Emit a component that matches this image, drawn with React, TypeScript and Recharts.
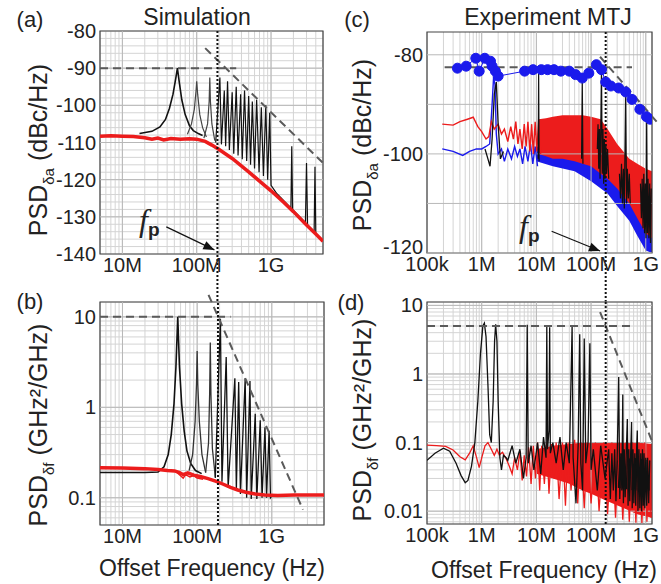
import React from "react";
import {
  Area,
  CartesianGrid,
  ComposedChart,
  Line,
  ReferenceArea,
  ReferenceDot,
  ReferenceLine,
  XAxis,
  YAxis,
} from "recharts";

type Pt = [number, number | null];
type Band = [number, number, number];

const RED = "#ec1c1c";
const BLUE = "#1a1aec";
const BLACK = "#111";
const DASH = "#5a5a5a";
const GRID = "#d4d4d4";
const GRID_MAJOR = "#b8b8b8";
const FONT = '"Liberation Sans", Arial, Helvetica, sans-serif';

// fp markers (Hz)
const FP_SIM = 1.9e8;
const FP_EXP = 1.85e8;

// axis labels
const SIM_X_LABELS: [number, string][] = [[1e7, "10M"], [1e8, "100M"], [1e9, "1G"]];
const EXP_X_LABELS: [number, string][] = [[1e5, "100k"], [1e6, "1M"], [1e7, "10M"], [1e8, "100M"], [1e9, "1G"]];
const A_Y_LABELS: [number, string][] = [[-80, "-80"], [-90, "-90"], [-100, "-100"], [-110, "-110"], [-120, "-120"], [-130, "-130"], [-140, "-140"]];
const C_Y_LABELS: [number, string][] = [[-80, "-80"], [-100, "-100"], [-120, "-120"]];
const C_Y_GRID = [-120, -110, -100, -90, -80];
const B_Y_LABELS: [number, string][] = [[0.1, "0.1"], [1, "1"], [10, "10"]];
const D_Y_LABELS: [number, string][] = [[0.01, "0.01"], [0.1, "0.1"], [1, "1"], [10, "10"]];

// ---------- (a) simulation, amplitude PSD (dBc/Hz)
const A_RED: Pt[] = [
  [5e6, -108.3], [7e6, -108.2], [1e7, -108.3], [1.4e7, -108.4], [2e7, -108.7], [2.5e7, -109.1],
  [3e7, -108.8], [3.6e7, -109.3], [4.5e7, -108.9], [6e7, -109.1], [8e7, -109], [1e8, -109.1],
  [1.3e8, -109.7], [1.6e8, -110.7], [2e8, -111.9], [3e8, -114.3], [5e8, -117.9], [7e8, -120.4],
  [1e9, -123], [1.5e9, -126.2], [2e9, -128.6], [3e9, -132.2], [4e9, -134.6], [5e9, -136.6],
];
const A_PEAK1: Pt[] = [
  [1.7e7, -107.6], [2.5e7, -107], [3.2e7, -105.8], [3.8e7, -103.8], [4.3e7, -100.8], [4.8e7, -97],
  [5.2e7, -93], [5.5e7, -90], [5.8e7, -93.5], [6.3e7, -98.5], [7e7, -102.5], [8e7, -105.5],
  [9e7, -106.8], [1.05e8, -107.6], [1.2e8, -108.1],
];
const A_PEAK2: Pt[] = [
  [7.5e7, -107.8], [8.5e7, -105], [9.3e7, -101], [9.8e7, -96], [1e8, -93.5], [1.03e8, -97],
  [1.1e8, -102.5], [1.2e8, -106], [1.35e8, -108.5],
];
const A_PEAK3: Pt[] = [
  [1.25e8, -108.8], [1.4e8, -105], [1.47e8, -99], [1.5e8, -92.5], [1.53e8, -99], [1.6e8, -105], [1.75e8, -109.5],
];
const A_SPIKES: Pt[] = [
  [1.8e8, -110], [2.05e8, -92.5], [2.15e8, -110.5], [2.35e8, -96], [2.45e8, -111], [2.6e8, -93.5],
  [2.75e8, -112], [3.0e8, -96.5], [3.15e8, -113], [3.4e8, -95], [3.6e8, -113.5], [3.9e8, -97],
  [4.1e8, -114.5], [4.4e8, -96], [4.7e8, -115], [5.0e8, -97.5], [5.3e8, -116], [5.6e8, -99],
  [6.0e8, -117], [6.4e8, -98.5], [6.9e8, -118], [7.4e8, -100.5], [7.9e8, -119], [8.5e8, -100],
  [9.0e8, -120], [9.6e8, -102], [1.0e9, -121.5], [1.2e9, -123.8], [1.85e9, -127.6], [1.9e9, -111],
  [1.95e9, -128], [2.9e9, -131.6], [3.0e9, -115.5], [3.1e9, -132.2], [3.8e9, -134], [3.9e9, -116.5],
  [4.0e9, -134.4],
];
const A_DASH_FLAT: Pt[] = [[5e6, -90], [3.4e8, -90]];
const A_DASH_SLOPE: Pt[] = [[1.3e8, -84.6], [5e9, -115.5]];
const A_FP_ARROW: Pt[] = [[3.9e7, -132.7], [1.73e8, -138.9]];

// ---------- (b) simulation, frequency PSD (GHz^2/GHz)
const B_RED: Pt[] = [
  [5e6, 0.215], [1e7, 0.213], [2e7, 0.21], [3e7, 0.205], [4e7, 0.2], [5e7, 0.198], [5.8e7, 0.19],
  [6.5e7, 0.18], [7.5e7, 0.188], [9e7, 0.178], [1.1e8, 0.172], [1.4e8, 0.163], [1.8e8, 0.152],
  [2.2e8, 0.142], [2.8e8, 0.13], [3.5e8, 0.122], [4.5e8, 0.115], [6e8, 0.11], [8e8, 0.107],
  [1.2e9, 0.106], [2e9, 0.107], [5e9, 0.107],
];
const B_RED2: Pt[] = [
  [5e7, 0.2], [6e7, 0.175], [6.5e7, 0.165], [7e7, 0.18], [8e7, 0.17], [9e7, 0.176], [1e8, 0.165], [1.2e8, 0.16],
];
const B_PEAK1: Pt[] = [
  [5e6, 0.19], [1e7, 0.19], [2e7, 0.19], [3e7, 0.193], [3.6e7, 0.22], [4.1e7, 0.3], [4.5e7, 0.5],
  [4.9e7, 1.1], [5.2e7, 2.8], [5.5e7, 10], [5.8e7, 2.8], [6.2e7, 1.1], [6.7e7, 0.55], [7.3e7, 0.33],
  [8.2e7, 0.24], [9.5e7, 0.2], [1.15e8, 0.185],
];
const B_PEAK2: Pt[] = [
  [7.8e7, 0.2], [8.7e7, 0.3], [9.4e7, 0.7], [9.8e7, 1.8], [1e8, 4.2], [1.02e8, 1.8], [1.07e8, 0.7],
  [1.16e8, 0.3], [1.3e8, 0.19],
];
const B_PEAK3: Pt[] = [
  [1.3e8, 0.19], [1.42e8, 0.4], [1.47e8, 1.4], [1.5e8, 5.2], [1.53e8, 1.4], [1.6e8, 0.35], [1.75e8, 0.17],
];
const B_SPIKES: Pt[] = [
  [1.75e8, 0.165], [2.05e8, 9.5], [2.15e8, 0.15], [2.45e8, 3.6], [2.6e8, 0.13], [3.2e8, 2.1],
  [3.35e8, 0.12], [3.6e8, 1.9], [3.8e8, 0.11], [4.4e8, 2.1], [4.6e8, 0.1], [5.1e8, 1.95],
  [5.3e8, 0.097], [6e8, 0.85], [6.3e8, 0.097], [7e8, 0.72], [7.4e8, 0.1], [8.1e8, 0.6],
  [8.5e8, 0.1], [9.2e8, 0.55], [9.6e8, 0.1], [1e9, 0.105],
];
const B_DASH_FLAT: Pt[] = [[5e6, 10], [2.8e8, 10]];
const B_DASH_SLOPE: Pt[] = [[1.42e8, 17.5], [2.61e9, 0.074]];

// ---------- (c) experiment, amplitude PSD (dBc/Hz)
const C_DOTS: Pt[] = [
  [3.6e5, -82.7], [5.2e5, -82.3], [7.8e5, -80.7], [9e5, -83.3], [1.14e6, -80.7], [1.45e6, -81.3],
  [1.55e6, -82.3], [1.78e6, -83.3], [2.0e6, -84.3], [6.1e6, -83.3], [8.7e6, -83], [1.23e7, -83],
  [1.6e7, -83], [2.1e7, -83], [2.8e7, -83.3], [4e7, -83.3], [5.2e7, -84], [6.9e7, -84.7],
  [9.1e7, -83.7], [1.25e8, -82], [1.55e8, -83], [1.85e8, -85.5], [2.3e8, -86.3], [3.2e8, -86.7],
  [4.3e8, -87.5], [5.6e8, -89], [7.8e8, -91], [1.03e9, -92.5], [1.2e9, -93],
];
const C_RED: Pt[] = [
  [1.9e5, -94], [3e5, -94.2], [4e5, -93.5], [5.5e5, -93], [7e5, -92.6], [8.5e5, -94.5], [1e6, -95.5],
  [1.2e6, -97], [1.35e6, -96.5], [1.5e6, -93.5], [1.7e6, -95], [2e6, -94], [2.3e6, -96], [2.6e6, -95],
  [3e6, -97.5], [3.4e6, -94.5], [3.8e6, -97], [4.2e6, -93.5], [4.6e6, -98], [5e6, -95], [5.5e6, -99],
  [6e6, -94], [6.5e6, -98.5], [7e6, -93.5], [7.6e6, -99.5], [8.2e6, -94], [8.8e6, -100], [9.5e6, -93.5],
  [1.02e7, -99.5], [1.1e7, -93], [1.2e7, -100],
];
const C_RED_BAND: Band[] = [
  [1.1e7, -100, -93], [1.5e7, -100.5, -92.8], [2e7, -101, -92.5], [3e7, -101, -92.2], [5e7, -101.5, -92.2],
  [7e7, -102, -92.2], [1e8, -102.5, -92.5], [1.5e8, -104, -93], [2e8, -105, -95], [3e8, -107, -98],
  [5e8, -110, -101], [7e8, -113, -102], [1e9, -116, -103], [1.3e9, -117, -103.5],
];
const C_BLUE: Pt[] = [
  [1.9e5, -99], [3e5, -99.5], [4.5e5, -100.3], [6e5, -99.5], [8e5, -99], [1e6, -99], [1.2e6, -98.5],
  [1.4e6, -98], [1.55e6, -90], [1.65e6, -84.5], [1.75e6, -86], [1.85e6, -96], [2e6, -100], [2.3e6, -99],
  [2.6e6, -101.5], [3e6, -99], [3.5e6, -101], [4e6, -98.5], [4.5e6, -100.5], [5e6, -99], [5.6e6, -102],
  [6.2e6, -98.5], [7e6, -101.5], [7.8e6, -98], [8.6e6, -102], [9.5e6, -98.5], [1.05e7, -102.5],
];
const C_BLUE_BAND: Band[] = [
  [1e7, -101.5, -98.5], [2e7, -102.5, -99], [5e7, -103.5, -99.5], [1e8, -105.5, -100], [2e8, -108, -101.5],
  [3e8, -110.5, -103], [5e8, -113.5, -105], [7e8, -116.5, -107], [1e9, -119.5, -109], [1.3e9, -120, -110],
];
const C_BLACK: Pt[] = [
  [1.15e6, -99], [1.3e6, -101], [1.42e6, -102.5], [1.55e6, -97], [1.7e6, -88], [1.85e6, -85.5],
  [2e6, -94], [2.2e6, -101], [2.5e6, -99.5],
];
const C_BLACK_SPIKES: Pt[] = [
  [1.08e7, -101], [1.1e7, -83], [1.12e7, -101.5], [1.15e7, null], [6.7e7, -101], [6.9e7, -85],
  [7.1e7, -102], [7.2e7, null], [1.3e8, -99], [1.34e8, -94], [1.38e8, -103], [1.42e8, -95], [1.46e8, -105],
  [1.5e8, -96], [1.55e8, -82.5], [1.6e8, -104], [1.65e8, -95], [1.7e8, -106], [1.75e8, -97], [1.8e8, -105],
  [1.86e8, -98], [1.92e8, -104], [2e8, -99], [2.1e8, -105], [2.2e8, null],
  [3.3e8, -104], [3.45e8, -109], [3.6e8, -102], [3.75e8, -110], [3.9e8, -103], [4.05e8, -111],
  [4.3e8, -87.5], [4.45e8, -110], [4.6e8, -103], [4.8e8, -109], [5e8, -104], [5.2e8, -110], [5.4e8, null],
  [8e8, -106], [8.3e8, -113], [8.6e8, -105], [8.9e8, -115], [9.2e8, -104], [9.5e8, -116], [9.8e8, -106],
  [1.01e9, -117], [1.04e9, -92.5], [1.07e9, -116], [1.1e9, -105], [1.14e9, -117], [1.18e9, -106],
  [1.22e9, -118], [1.26e9, -107],
];
const C_DASH_FLAT: Pt[] = [[2.1e5, -82.5], [5.6e8, -82.5]];
const C_DASH_SLOPE: Pt[] = [[1.46e8, -80.4], [1.8e9, -94.2]];
const C_FP_ARROW: Pt[] = [[1.9e7, -115.6], [1.46e8, -119.6]];

// ---------- (d) experiment, frequency PSD (GHz^2/GHz)
const D_RED: Pt[] = [
  [1e5, 0.092], [1.5e5, 0.09], [2.2e5, 0.088], [3e5, 0.078], [4e5, 0.062], [5e5, 0.056], [6e5, 0.07],
  [7e5, 0.09], [8e5, 0.062], [9e5, 0.043], [1e6, 0.06], [1.15e6, 0.09], [1.3e6, 0.1], [1.5e6, 0.08],
  [1.7e6, 0.065], [1.9e6, 0.08], [2.1e6, 0.066], [2.4e6, 0.072], [2.8e6, 0.058], [3.2e6, 0.045],
  [3.6e6, 0.035], [4e6, 0.06], [4.5e6, 0.04], [5e6, 0.075], [5.5e6, 0.028], [6e6, 0.065], [6.6e6, 0.032],
  [7.2e6, 0.085], [8e6, 0.025], [8.8e6, 0.09], [9.6e6, 0.03], [1.05e7, 0.1], [1.15e7, 0.02], [1.25e7, 0.09],
  [1.4e7, 0.025], [1.55e7, 0.1], [1.7e7, 0.018], [1.9e7, 0.095], [2.1e7, 0.03], [2.3e7, 0.1], [2.6e7, 0.015],
  [3e7, 0.1], [3.4e7, 0.012], [3.8e7, 0.1], [4.3e7, 0.02], [5e7, 0.11], [5.7e7, 0.013], [6.5e7, 0.1],
  [7.5e7, 0.011], [8.5e7, 0.1], [1e8, 0.013], [1.2e8, 0.1], [1.4e8, 0.01], [1.7e8, 0.1], [2e8, 0.009],
  [2.4e8, 0.1], [2.8e8, 0.008], [3.3e8, 0.1], [3.8e8, 0.0075], [4.4e8, 0.1], [5e8, 0.007], [5.8e8, 0.1],
  [6.6e8, 0.0068], [7.5e8, 0.1], [8.5e8, 0.0067], [9.6e8, 0.1], [1.05e9, 0.007], [1.15e9, 0.095], [1.25e9, 0.008],
];
const D_RED_BAND: Band[] = [
  [1e7, 0.035, 0.08], [2e7, 0.03, 0.09], [4e7, 0.025, 0.095], [7e7, 0.02, 0.1], [1e8, 0.018, 0.1],
  [2e8, 0.014, 0.1], [4e8, 0.011, 0.1], [7e8, 0.009, 0.1], [1.3e9, 0.008, 0.095],
];
const D_BLACK: Pt[] = [
  [1e5, 0.055], [1.4e5, 0.07], [2e5, 0.083], [2.6e5, 0.075], [3.4e5, 0.05], [4.2e5, 0.033], [5e5, 0.026],
  [5.6e5, 0.028], [6.5e5, 0.045], [7.5e5, 0.1], [8.5e5, 0.4], [9.5e5, 2], [1.05e6, 5], [1.12e6, 5.5],
  [1.2e6, 3.5], [1.3e6, 0.7], [1.4e6, 0.13], [1.5e6, 0.1], [1.62e6, 0.4], [1.72e6, 3], [1.8e6, 5.3],
  [1.9e6, 3], [2e6, 0.4], [2.15e6, 0.06], [2.3e6, 0.04], [2.5e6, 0.065], [2.8e6, 0.06], [3e6, 0.055],
  [3.6e6, 0.09], [4.2e6, 0.05], [5e6, 0.08], [5.8e6, 0.03], [6.5e6, 0.06], [6.8e6, 5.2], [7.1e6, 0.05],
  [8e6, 0.09], [9e6, 0.04], [1.05e7, 0.1], [1.2e7, 0.035], [1.35e7, 0.12], [1.5e7, 0.06], [1.55e7, 5],
  [1.6e7, 0.08], [1.7e7, 0.15], [1.75e7, 4.8], [1.8e7, 0.07], [2e7, 0.1], [2.3e7, 0.05], [2.7e7, 0.12],
  [3.1e7, 0.04], [3.5e7, 0.1], [4e7, 0.05], [4.5e7, 5], [4.7e7, 0.06], [5.3e7, 0.013], [5.8e7, 0.09],
  [6.2e7, 3.8], [6.5e7, 0.05], [7e7, 0.02], [7.5e7, 3.3], [8e7, 0.05], [8.8e7, 0.1], [9.5e7, 2.8],
  [1e8, 0.04], [1.1e8, 0.08], [1.3e8, 0.02], [1.5e8, 0.09], [1.8e8, 0.03], [2.1e8, 0.08], [2.25e8, 0.015],
  [2.4e8, 0.07], [2.55e8, 0.02], [2.7e8, 0.08], [2.85e8, 0.014], [3e8, 0.06], [3.2e8, 0.9], [3.35e8, 0.015],
  [3.5e8, 0.07], [3.65e8, 0.02], [3.8e8, 0.5], [3.9e8, 0.013], [4.05e8, 0.08], [4.2e8, 0.016], [4.4e8, 0.07],
  [4.6e8, 0.22], [4.75e8, 0.012], [4.9e8, 0.08], [5.1e8, 0.014], [5.3e8, 0.07], [5.5e8, 0.2], [5.65e8, 0.011],
  [5.85e8, 0.08], [6.05e8, 0.013], [6.3e8, 0.07], [6.55e8, 0.012], [6.8e8, 0.08], [7e8, 0.15], [7.2e8, 0.01],
  [7.5e8, 0.08], [7.8e8, 0.011], [8.1e8, 0.07], [8.4e8, 0.01], [8.7e8, 0.08], [9e8, 0.012], [9.3e8, 0.07],
  [9.6e8, 0.011], [1e9, 0.06], [1.04e9, 0.012], [1.08e9, 0.06], [1.13e9, 0.013], [1.18e9, 0.055],
];
const D_BLACK_BAND: Band[] = [
  [3e8, 0.022, 0.055], [6e8, 0.02, 0.06], [1.2e9, 0.02, 0.055],
];
const D_DASH_FLAT: Pt[] = [[1e5, 5], [5.6e8, 5]];
const D_DASH_SLOPE: Pt[] = [[1.46e8, 8], [1.3e9, 0.105]];

// ---------- helpers
const pts = (a: Pt[]) => a.map(([f, v]) => ({ f, v }));
const band = (a: Band[]) => a.map(([f, lo, hi]) => ({ f, r: [lo, hi] }));
const seg = (a: Pt[]) => [
  { x: a[0][0], y: a[0][1] },
  { x: a[1][0], y: a[1][1] },
];

function logTicks(lo: number, hi: number) {
  const out: number[] = [];
  for (let e = Math.floor(Math.log10(lo)); e <= Math.ceil(Math.log10(hi)); e++) {
    for (let m = 1; m <= 9; m++) {
      const t = Number((m * Math.pow(10, e)).toPrecision(6));
      if (t >= lo * 0.999 && t <= hi * 1.001) out.push(t);
    }
  }
  return out;
}
const labeler = (labels: [number, string][]) => (v: number) => {
  const hit = labels.find(([k]) => Math.abs(k - v) <= Math.abs(k) * 1e-6);
  return hit ? hit[1] : "";
};

const tick = { fill: "#222", fontSize: 20 };

function line(data: Pt[], color: string, width: number, key: string) {
  return (
    <Line
      key={key}
      data={pts(data)}
      dataKey="v"
      type="linear"
      stroke={color}
      strokeWidth={width}
      dot={false}
      activeDot={false}
      isAnimationActive={false}
    />
  );
}
function area(data: Band[], color: string, key: string) {
  return (
    <Area
      key={key}
      data={band(data)}
      dataKey="r"
      type="linear"
      stroke="none"
      fill={color}
      fillOpacity={1}
      isAnimationActive={false}
    />
  );
}
function dashed(p: Pt[], key: string) {
  return (
    <ReferenceLine key={key} segment={seg(p)} stroke={DASH} strokeWidth={2} strokeDasharray="8 5" ifOverflow="visible" />
  );
}
function majors(xs: number[], ys: number[], prefix: string) {
  return [
    ...xs.map((x) => <ReferenceLine key={`${prefix}x${x}`} x={x} stroke={GRID_MAJOR} strokeWidth={1} />),
    ...ys.map((y) => <ReferenceLine key={`${prefix}y${y}`} y={y} stroke={GRID_MAJOR} strokeWidth={1} />),
  ];
}

const Arrowhead = ({ cx, cy, angle }: { cx?: number; cy?: number; angle: number }) => {
  if (cx == null || cy == null) return null;
  const a = (angle * Math.PI) / 180;
  const L = 11;
  const W = 4.5;
  const bx = cx - L * Math.cos(a);
  const by = cy - L * Math.sin(a);
  const px = -Math.sin(a) * W;
  const py = Math.cos(a) * W;
  return <polygon points={`${cx},${cy} ${bx + px},${by + py} ${bx - px},${by - py}`} fill={BLACK} />;
};

// (c) y ticks: the bottom label sits a little above the corner, as in the figure
const CYTick = (props: any) => {
  const { x, y, payload } = props;
  const s = labeler(C_Y_LABELS)(payload.value);
  if (!s) return null;
  return (
    <text x={x} y={payload.value === -120 ? y - 6 : y} dy="0.355em" textAnchor="end" fill="#222" fontSize={20}>
      {s}
    </text>
  );
};

function YLabel({ x, y, sub, unit }: { x: number; y: number; sub: string; unit: string }) {
  return (
    <div
      style={{
        position: "absolute",
        left: x,
        top: y,
        transform: "translate(-50%, -50%) rotate(-90deg)",
        fontSize: 25,
        whiteSpace: "nowrap",
        lineHeight: 1,
      }}
    >
      PSD<span style={{ fontSize: "0.6em", position: "relative", top: "0.45em" }}>{sub}</span> ({unit})
    </div>
  );
}

function Text({ x, y, size, children }: { x: number; y: number; size: number; children: React.ReactNode }) {
  return (
    <div
      style={{
        position: "absolute",
        left: x,
        top: y,
        transform: "translate(-50%, -50%)",
        fontSize: size,
        whiteSpace: "nowrap",
        lineHeight: 1,
      }}
    >
      {children}
    </div>
  );
}

function Fp({ x, y }: { x: number; y: number }) {
  return (
    <div style={{ position: "absolute", left: x, top: y, whiteSpace: "nowrap", lineHeight: 1 }}>
      <span style={{ fontFamily: '"Liberation Serif", "DejaVu Serif", serif', fontStyle: "italic", fontSize: 32 }}>f</span>
      <span style={{ fontWeight: "bold", fontSize: 19, position: "relative", top: 5 }}>p</span>
    </div>
  );
}

const SIM_X_DOMAIN: [number, number] = [5e6, 5e9];
const EXP_X_DOMAIN: [number, number] = [1e5, 1.3e9];
const SIM_X_TICKS = logTicks(SIM_X_DOMAIN[0], SIM_X_DOMAIN[1]);
const EXP_X_TICKS = logTicks(EXP_X_DOMAIN[0], EXP_X_DOMAIN[1]);
const A_Y_TICKS = Array.from({ length: 31 }, (_, i) => -140 + i * 2);
const B_Y_DOMAIN: [number, number] = [0.05, 14.6];
const D_Y_DOMAIN: [number, number] = [0.0065, 11.2];
const B_Y_TICKS = logTicks(B_Y_DOMAIN[0], B_Y_DOMAIN[1]);
const D_Y_TICKS = logTicks(D_Y_DOMAIN[0], D_Y_DOMAIN[1]);
const C_Y_DOMAIN: [number, number] = [-120, -75.4];

function xAxis(domain: [number, number], ticks: number[], labels: [number, string][]) {
  return (
    <XAxis
      dataKey="f"
      type="number"
      scale="log"
      domain={domain}
      allowDataOverflow
      ticks={ticks}
      interval={0}
      tickFormatter={labeler(labels)}
      tick={tick}
      tickSize={0}
      tickMargin={4}
      axisLine={false}
      tickLine={false}
      height={30}
    />
  );
}

export default function App() {
  return (
    <div
      style={{
        position: "absolute",
        left: 0,
        top: 0,
        width: 661,
        height: 584,
        background: "#fff",
        fontFamily: FONT,
        color: "#222",
        overflow: "hidden",
      }}
    >
      {/* (a) */}
      <div style={{ position: "absolute", left: 0, top: 0 }}>
        <ComposedChart width={330} height={304} margin={{ top: 31, right: 7, bottom: 20, left: 50 }}>
          <CartesianGrid stroke={GRID} />
          {xAxis(SIM_X_DOMAIN, SIM_X_TICKS, SIM_X_LABELS)}
          <YAxis
            type="number"
            domain={[-140, -80]}
            allowDataOverflow
            ticks={A_Y_TICKS}
            interval={0}
            tickFormatter={labeler(A_Y_LABELS)}
            tick={tick}
            tickSize={0}
            tickMargin={4}
            axisLine={false}
            tickLine={false}
            width={50}
          />
          {majors([1e7, 1e8, 1e9], [-90, -100, -110, -120, -130], "a")}
          {line(A_PEAK1, BLACK, 1.6, "a1")}
          {line(A_PEAK2, "#444", 1.2, "a2")}
          {line(A_PEAK3, "#444", 1.2, "a3")}
          {line(A_SPIKES, BLACK, 1.2, "a4")}
          {line(A_RED, RED, 3.5, "a5")}
          {dashed(A_DASH_FLAT, "ad1")}
          {dashed(A_DASH_SLOPE, "ad2")}
          <ReferenceLine
            segment={[{ x: FP_SIM, y: -80 }, { x: FP_SIM, y: -153 }]}
            stroke={BLACK}
            strokeWidth={2}
            strokeDasharray="2 2"
            ifOverflow="visible"
          />
          <ReferenceLine segment={seg(A_FP_ARROW)} stroke={BLACK} strokeWidth={1.2} ifOverflow="visible" />
          <ReferenceDot
            x={A_FP_ARROW[1][0]}
            y={A_FP_ARROW[1][1] as number}
            r={3}
            ifOverflow="visible"
            shape={(p: any) => <Arrowhead cx={p.cx} cy={p.cy} angle={25} />}
          />
          <ReferenceArea x1={SIM_X_DOMAIN[0]} x2={SIM_X_DOMAIN[1]} y1={-140} y2={-80} fill="none" stroke="#444" strokeWidth={1.2} ifOverflow="visible" />
        </ComposedChart>
      </div>

      {/* (b) */}
      <div style={{ position: "absolute", left: 0, top: 280 }}>
        <ComposedChart width={330} height={304} margin={{ top: 22, right: 6, bottom: 29, left: 50 }}>
          <CartesianGrid stroke={GRID} />
          {xAxis(SIM_X_DOMAIN, SIM_X_TICKS, SIM_X_LABELS)}
          <YAxis
            type="number"
            scale="log"
            domain={B_Y_DOMAIN}
            allowDataOverflow
            ticks={B_Y_TICKS}
            interval={0}
            tickFormatter={labeler(B_Y_LABELS)}
            tick={tick}
            tickSize={0}
            tickMargin={4}
            axisLine={false}
            tickLine={false}
            width={50}
          />
          {majors([1e7, 1e8, 1e9], [0.1, 1, 10], "b")}
          {line(B_PEAK1, BLACK, 1.6, "b1")}
          {line(B_PEAK2, "#333", 1.3, "b2")}
          {line(B_PEAK3, "#333", 1.3, "b3")}
          {line(B_SPIKES, BLACK, 1.3, "b4")}
          {line(B_RED2, RED, 1.5, "b5")}
          {line(B_RED, RED, 3.5, "b6")}
          {dashed(B_DASH_FLAT, "bd1")}
          {dashed(B_DASH_SLOPE, "bd2")}
          <ReferenceLine x={FP_SIM} stroke={BLACK} strokeWidth={2} strokeDasharray="2 2" />
          <ReferenceArea x1={SIM_X_DOMAIN[0]} x2={SIM_X_DOMAIN[1]} y1={B_Y_DOMAIN[0]} y2={B_Y_DOMAIN[1]} fill="none" stroke="#444" strokeWidth={1.2} ifOverflow="visible" />
        </ComposedChart>
      </div>

      {/* (c) */}
      <div style={{ position: "absolute", left: 330, top: 0 }}>
        <ComposedChart width={331} height={304} margin={{ top: 32, right: 9, bottom: 21, left: 47 }}>
          <CartesianGrid stroke={GRID} horizontal={false} />
          {xAxis(EXP_X_DOMAIN, EXP_X_TICKS, EXP_X_LABELS)}
          <YAxis
            type="number"
            domain={C_Y_DOMAIN}
            allowDataOverflow
            ticks={C_Y_GRID}
            interval={0}
            tick={<CYTick />}
            tickSize={0}
            tickMargin={4}
            axisLine={false}
            tickLine={false}
            width={50}
          />
          {majors([1e6, 1e7, 1e8, 1e9], C_Y_GRID, "c")}
          {line(C_BLUE, BLUE, 1.4, "c1")}
          {area(C_BLUE_BAND, BLUE, "c2")}
          {area(C_RED_BAND, RED, "c3")}
          {line(C_RED, RED, 1.4, "c4")}
          {line(C_BLACK, BLACK, 1.3, "c6")}
          {line(C_BLACK_SPIKES, BLACK, 1.2, "c7")}
          <Line
            data={pts(C_DOTS)}
            dataKey="v"
            type="linear"
            stroke={BLUE}
            strokeWidth={1}
            dot={{ r: 5, fill: BLUE, stroke: BLUE, strokeWidth: 1 }}
            activeDot={false}
            isAnimationActive={false}
          />
          {dashed(C_DASH_FLAT, "cd1")}
          {dashed(C_DASH_SLOPE, "cd2")}
          <ReferenceLine
            segment={[{ x: FP_EXP, y: -75.4 }, { x: FP_EXP, y: -130 }]}
            stroke={BLACK}
            strokeWidth={2}
            strokeDasharray="2 2"
            ifOverflow="visible"
          />
          <ReferenceLine segment={seg(C_FP_ARROW)} stroke={BLACK} strokeWidth={1.2} ifOverflow="visible" />
          <ReferenceDot
            x={C_FP_ARROW[1][0]}
            y={C_FP_ARROW[1][1] as number}
            r={3}
            ifOverflow="visible"
            shape={(p: any) => <Arrowhead cx={p.cx} cy={p.cy} angle={21} />}
          />
          <ReferenceArea x1={EXP_X_DOMAIN[0]} x2={EXP_X_DOMAIN[1]} y1={C_Y_DOMAIN[0]} y2={C_Y_DOMAIN[1]} fill="none" stroke="#444" strokeWidth={1.2} ifOverflow="visible" />
        </ComposedChart>
      </div>

      {/* (d) */}
      <div style={{ position: "absolute", left: 330, top: 280 }}>
        <ComposedChart width={331} height={304} margin={{ top: 22, right: 9, bottom: 30, left: 47 }}>
          <CartesianGrid stroke={GRID} />
          {xAxis(EXP_X_DOMAIN, EXP_X_TICKS, EXP_X_LABELS)}
          <YAxis
            type="number"
            scale="log"
            domain={D_Y_DOMAIN}
            allowDataOverflow
            ticks={D_Y_TICKS}
            interval={0}
            tickFormatter={labeler(D_Y_LABELS)}
            tick={tick}
            tickSize={0}
            tickMargin={4}
            axisLine={false}
            tickLine={false}
            width={50}
          />
          {majors([1e6, 1e7, 1e8, 1e9], [0.01, 0.1, 1, 10], "d")}
          {area(D_RED_BAND, RED, "d1")}
          {line(D_RED, RED, 1.3, "d2")}
          {area(D_BLACK_BAND, BLACK, "d3")}
          {line(D_BLACK, BLACK, 1.3, "d4")}
          {dashed(D_DASH_FLAT, "dd1")}
          {dashed(D_DASH_SLOPE, "dd2")}
          <ReferenceLine x={FP_EXP} stroke={BLACK} strokeWidth={2} strokeDasharray="2 2" />
          <ReferenceArea x1={EXP_X_DOMAIN[0]} x2={EXP_X_DOMAIN[1]} y1={D_Y_DOMAIN[0]} y2={D_Y_DOMAIN[1]} fill="none" stroke="#444" strokeWidth={1.2} ifOverflow="visible" />
        </ComposedChart>
      </div>

      {/* texts */}
      <Text x={30} y={20} size={22}>(a)</Text>
      <Text x={30} y={302} size={22}>(b)</Text>
      <Text x={357} y={20} size={22}>(c)</Text>
      <Text x={351} y={303} size={22}>(d)</Text>
      <Text x={197} y={17} size={23}>Simulation</Text>
      <Text x={548} y={17} size={23}>Experiment MTJ</Text>
      <Text x={212} y={568} size={23}>Offset Frequency (Hz)</Text>
      <Text x={544} y={570} size={23}>Offset Frequency (Hz)</Text>
      <YLabel x={38} y={150} sub="δa" unit="dBc/Hz" />
      <YLabel x={38} y={425} sub="δf" unit="GHz²/GHz" />
      <YLabel x={362} y={145} sub="δa" unit="dBc/Hz" />
      <YLabel x={362} y={420} sub="δf" unit="GHz²/GHz" />
      <Fp x={139} y={204} />
      <Fp x={519} y={210} />
    </div>
  );
}
